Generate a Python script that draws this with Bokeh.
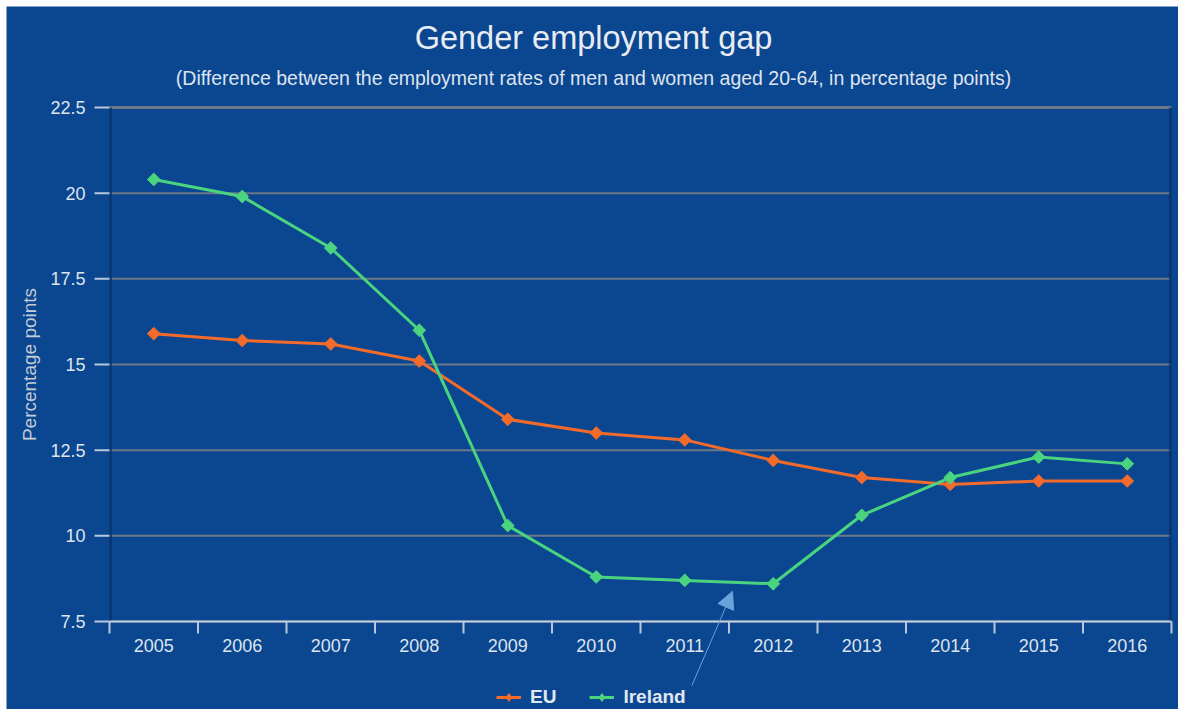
import math
from bokeh.plotting import figure
from bokeh.models import Legend, LegendItem, Arrow, NormalHead, Range1d
from bokeh.core.properties import value
from bokeh.embed import file_html
from bokeh.resources import INLINE

years = [2005, 2006, 2007, 2008, 2009, 2010, 2011, 2012, 2013, 2014, 2015, 2016]
year_labels = [str(y) for y in years]
eu = [15.9, 15.7, 15.6, 15.1, 13.4, 13.0, 12.8, 12.2, 11.7, 11.5, 11.6, 11.6]
ireland = [20.4, 19.9, 18.4, 16.0, 10.3, 8.8, 8.7, 8.6, 10.6, 11.7, 12.3, 12.1]
y_ticks = [7.5, 10, 12.5, 15, 17.5, 20, 22.5]
y_tick_labels = ["7.5", "10", "12.5", "15", "17.5", "20", "22.5"]
title = "Gender employment gap"
subtitle = "(Difference between the employment rates of men and women aged 20-64, in percentage points)"
y_title = "Percentage points"
arrow_start = (2011.08, 5.63)
arrow_end = (2011.54, 8.38)

BG = "#0b4690"
FONT = "Liberation Sans"
ORANGE = "#f26b2b"
GREEN = "#4bd47f"
TXT = "#dde4ee"
AXIS = "#c3d0e0"
GRID = "#6c7888"

# plot area (data box) and the whole canvas expressed in data units
x_lo, x_hi = years[0] - 0.5, years[-1] + 0.5
y_lo, y_hi = y_ticks[0], y_ticks[-1]
PX_X = 88.5          # px per year
PX_Y = 514 / 15.0    # px per percentage point
LEFT_PX, RIGHT_PX, TOP_PX, BOTTOM_PX = 103, 7, 101, 88
X0 = x_lo - LEFT_PX / PX_X
X1 = x_hi + RIGHT_PX / PX_X
Y0 = y_lo - BOTTOM_PX / PX_Y
Y1 = y_hi + TOP_PX / PX_Y
NAN = float("nan")

p = figure(frame_width=1172, frame_height=703, output_backend="svg",
           toolbar_location=None, x_axis_location=None, y_axis_location=None,
           x_range=Range1d(X0, X1), y_range=Range1d(Y0, Y1), title=None,
           min_border=0)
p.margin = (6, 0, 0, 6)
p.background_fill_color = BG
p.border_fill_color = BG
p.outline_line_color = None
p.xgrid.grid_line_color = None
p.ygrid.grid_line_color = None

F = value(FONT)

# titles
p.text(x=[X0], y=[Y1], text=[title], x_offset=587, y_offset=31,
       text_align="center", text_baseline="middle", text_font=F,
       text_font_size="32.5px", text_color="#e8ecf2")
p.text(x=[X0], y=[Y1], text=[subtitle], x_offset=587, y_offset=71,
       text_align="center", text_baseline="middle", text_font=F,
       text_font_size="19.5px", text_color=TXT)

# horizontal grid lines
p.segment(x0=[x_lo] * len(y_ticks), y0=y_ticks, x1=[x_hi] * len(y_ticks),
          y1=y_ticks, line_color=GRID, line_width=2)
p.segment(x0=[x_lo], y0=[y_hi], x1=[x_hi], y1=[y_hi], line_color=GRID,
          line_width=3)

# frame shadows (left / right edges of the plot area)
p.segment(x0=[x_lo + 0.012, x_hi - 0.012], y0=[y_lo, y_lo],
          x1=[x_lo + 0.012, x_hi - 0.012], y1=[y_hi, y_hi],
          line_color="#06346e", line_width=3, line_alpha=0.8)

# y axis: ticks, labels, title
p.ray(x=[x_lo] * len(y_ticks), y=y_ticks, length=15, length_units="screen",
      angle=math.pi, line_color="#b8c8dc", line_width=2)
p.text(x=[x_lo] * len(y_ticks), y=y_ticks, text=y_tick_labels, x_offset=-24,
       text_align="right", text_baseline="middle", text_font=F,
       text_font_size="18px", text_color=TXT)
p.text(x=[x_lo], y=[(y_lo + y_hi) / 2], text=[y_title], x_offset=-80,
       angle=math.pi / 2, text_align="center", text_baseline="middle",
       text_font=F, text_font_size="19px", text_color="#c3ccd8")

# x axis: line, boundary ticks, year labels
xb = [y - 0.5 for y in years] + [years[-1] + 0.5]
p.segment(x0=[x_lo], y0=[y_lo], x1=[x_hi], y1=[y_lo], line_color=AXIS,
          line_width=2)
p.ray(x=xb, y=[y_lo] * len(xb), length=12, length_units="screen",
      angle=-math.pi / 2, line_color="#b8c8dc", line_width=2)
p.text(x=years, y=[y_lo] * len(years), text=year_labels, y_offset=24,
       text_align="center", text_baseline="middle", text_font=F,
       text_font_size="18px", text_color=TXT)

# data series
p.line(years, eu, line_color=ORANGE, line_width=3)
p.scatter(years, eu, marker="square", angle=math.pi / 4, size=9,
          fill_color=ORANGE, line_color=ORANGE)
p.line(years, ireland, line_color=GREEN, line_width=3)
p.scatter(years, ireland, marker="square", angle=math.pi / 4, size=9,
          fill_color=GREEN, line_color=GREEN)

p.add_layout(Arrow(x_start=arrow_start[0], y_start=arrow_start[1],
                   x_end=arrow_end[0], y_end=arrow_end[1],
                   line_color="#6aa2dc", line_width=1,
                   end=NormalHead(size=17, fill_color="#6aa2dc",
                                  line_color="#6aa2dc")))

# legend swatches (smaller than the plotted markers, as in the reference)
l1 = p.line([NAN], [NAN], line_color=ORANGE, line_width=3)
s1 = p.scatter([NAN], [NAN], marker="diamond", size=10,
               fill_color=ORANGE, line_color=ORANGE)
l2 = p.line([NAN], [NAN], line_color=GREEN, line_width=3)
s2 = p.scatter([NAN], [NAN], marker="diamond", size=10,
               fill_color=GREEN, line_color=GREEN)
legend = Legend(items=[LegendItem(label="EU", renderers=[l1, s1]),
                       LegendItem(label="Ireland", renderers=[l2, s2])],
                orientation="horizontal", location=(490, 1),
                background_fill_alpha=0, border_line_color=None,
                label_text_font=FONT, label_text_font_size="19px",
                label_text_font_style="bold", label_text_color="#e2e8f0",
                glyph_width=25, label_standoff=9, spacing=33, margin=0,
                padding=0)
p.add_layout(legend, "center")

open("out.html", "w").write(file_html(p, INLINE))
